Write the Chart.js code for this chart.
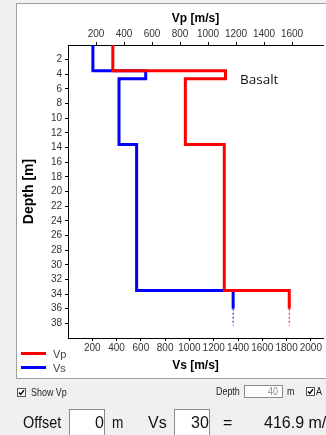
<!DOCTYPE html>
<html>
<head>
<meta charset="utf-8">
<script src="https://cdn.jsdelivr.net/npm/chart.js@4.4.1/dist/chart.umd.min.js"></script>
<style>
  html, body { margin: 0; padding: 0; }
  body {
    width: 326px; height: 435px; overflow: hidden; position: relative;
    background: #f0f0f0; font-family: "Liberation Sans", Arial, sans-serif; color: #111;
  }
  .panel {
    position: absolute; left: 16px; top: 3px; width: 330px; height: 374px;
    background: #fff; border: 1px solid #a0a0a0;
  }
  #chart { position: absolute; left: 0; top: 0; }
  .abs { position: absolute; white-space: nowrap; }
  .small { font-size: 10.5px; line-height: 12px; color: #222; transform: scaleX(0.85); transform-origin: left center; }
  .big { font-size: 16px; line-height: 18px; color: #111; }
  .box { position: absolute; background: #fff; border: 1px solid #8a8a8a; box-sizing: border-box; }
  .cb { position: absolute; width: 9px; height: 9px; box-sizing: border-box; border: 1px solid #555; background: #fff; }
  .leg { position: absolute; height: 3px; width: 25px; }
</style>
</head>
<body>
<div class="panel">
  <canvas id="chart" width="309" height="374"></canvas>
  <div class="leg" style="left:4px; top:348px; background:#ff0000;"></div>
  <div class="leg" style="left:4px; top:362px; background:#0000ff;"></div>
  <div class="abs" style="left:36px; top:344px; font-size:11px; line-height:13px; color:#444;">Vp</div>
  <div class="abs" style="left:36px; top:358px; font-size:11px; line-height:13px; color:#444;">Vs</div>
  <div class="abs" style="left:223px; top:66px; font-family:'Open Sans', sans-serif; font-size:13.5px; line-height:18px; color:#111;">Basalt</div>
</div>

<!-- controls under the chart -->
<div class="cb" style="left:17px; top:388px;">
  <svg width="7" height="7" style="position:absolute; left:0; top:0;"><polyline points="1,3.5 2.8,5.5 6,1.2" fill="none" stroke="#000" stroke-width="1.4"/></svg>
</div>
<div class="abs small" style="left:31px; top:386px;">Show Vp</div>
<div class="abs small" style="left:216px; top:385px;">Depth</div>
<div class="box" style="left:244px; top:385px; width:39px; height:13px;"></div>
<div class="abs small" style="left:268px; top:385px; color:#888;">40</div>
<div class="abs small" style="left:287px; top:385px;">m</div>
<div class="cb" style="left:306px; top:387px;">
  <svg width="7" height="7" style="position:absolute; left:0; top:0;"><polyline points="1,3.5 2.8,5.5 6,1.2" fill="none" stroke="#000" stroke-width="1.4"/></svg>
</div>
<div class="abs small" style="left:316px; top:385px;">A</div>

<div class="abs big" style="left:23px; top:414px; transform:scaleX(0.9); transform-origin:left center;">Offset</div>
<div class="box" style="left:69px; top:409px; width:36px; height:40px;"></div>
<div class="abs big" style="left:95px; top:414px;">0</div>
<div class="abs big" style="left:112px; top:414px; transform:scaleX(0.85); transform-origin:left center;">m</div>
<div class="abs big" style="left:148px; top:414px;">Vs</div>
<div class="box" style="left:174px; top:409px; width:36px; height:40px;"></div>
<div class="abs big" style="left:191px; top:414px;">30</div>
<div class="abs big" style="left:223px; top:414px;">=</div>
<div class="abs big" style="left:264px; top:414px;">416.9 m/s</div>

<script>
// tick labels
const depthTicks = [2, 4, 6, 8, 10, 12, 14, 16, 18, 20, 22, 24, 26, 28, 30, 32, 34, 36, 38];
const vpTicks = [200, 400, 600, 800, 1000, 1200, 1400, 1600];
const vsTicks = [200, 400, 600, 800, 1000, 1200, 1400, 1600, 1800, 2000];

// layer model (depth of layer top in m, velocities in m/s)
const layerTops = [0, 3.5, 4.6, 13.6, 33.5];
const vpLayers = [320, 1125, 838, 1116, 1580];
const vsLayers = [205, 640, 420, 565, 1360];
const halfSpaceSolid = 36;
const halfSpaceDash = 38.3;

function stepLine(values) {
    const pts = [];
    values.forEach((v, i) => {
        const bottom = i < layerTops.length - 1 ? layerTops[i + 1] : halfSpaceSolid;
        pts.push({ x: v, y: layerTops[i] }, { x: v, y: bottom });
    });
    return pts;
}

function tail(values) {
    const v = values[values.length - 1];
    return [{ x: v, y: halfSpaceSolid }, { x: v, y: halfSpaceDash }];
}

const tickFont = { family: 'Liberation Sans', size: 10 };
const titleFont = { family: 'Liberation Sans', size: 12, weight: 'bold' };
const plain = v => String(v);

function axisStyle() {
    return {
        grid: { drawOnChartArea: false, drawTicks: true, tickLength: 3, tickColor: '#000' },
        border: { display: true, color: '#000', width: 1 },
    };
}

new Chart(document.getElementById('chart'), {
    type: 'scatter',
    data: {
        datasets: [
            { label: 'Vp', data: stepLine(vpLayers), xAxisID: 'x2', showLine: true, borderColor: '#ff0000', borderWidth: 3, pointRadius: 0 },
            { label: 'Vs', data: stepLine(vsLayers), xAxisID: 'x', showLine: true, borderColor: '#0000ff', borderWidth: 3, pointRadius: 0 },
            { label: 'Vp half-space', data: tail(vpLayers), xAxisID: 'x2', showLine: true, borderColor: '#ff0000', borderWidth: 1, borderDash: [2, 2], pointRadius: 0 },
            { label: 'Vs half-space', data: tail(vsLayers), xAxisID: 'x', showLine: true, borderColor: '#0000ff', borderWidth: 1, borderDash: [2, 2], pointRadius: 0 }
        ]
    },
    options: {
        responsive: false,
        animation: false,
        devicePixelRatio: 1,
        layout: { padding: { left: 0, top: 0, right: 3, bottom: 0 } },
        plugins: { legend: { display: false }, tooltip: { enabled: false } },
        scales: {
            x: {
                type: 'linear', position: 'bottom', min: 0, max: 2100,
                ...axisStyle(),
                afterBuildTicks: s => { s.ticks = vsTicks.map(v => ({ value: v })); },
                afterFit: s => { s.height = 40; },
                ticks: { font: tickFont, color: '#333', padding: 1, maxRotation: 0, autoSkip: false, callback: plain },
                title: { display: true, text: 'Vs [m/s]', font: titleFont, color: '#000', padding: { top: 0, bottom: 5 } }
            },
            x2: {
                type: 'linear', position: 'top', min: 0, max: 1821,
                ...axisStyle(),
                afterBuildTicks: s => { s.ticks = vpTicks.map(v => ({ value: v })); },
                afterFit: s => { s.height = 41; },
                ticks: { font: tickFont, color: '#333', padding: 2, maxRotation: 0, autoSkip: false, callback: plain },
                title: { display: true, text: 'Vp [m/s]', font: titleFont, color: '#000', padding: { top: 7, bottom: 0 } }
            },
            y: {
                type: 'linear', position: 'left', reverse: true, min: 0, max: 40,
                ...axisStyle(),
                afterBuildTicks: s => { s.ticks = depthTicks.map(v => ({ value: v })); },
                afterFit: s => { s.width = 51; },
                ticks: { font: tickFont, color: '#333', padding: 3, autoSkip: false, callback: plain },
                title: { display: true, text: 'Depth [m]', font: { family: 'Liberation Sans', size: 14, weight: 'bold' }, color: '#000', padding: { top: 4, bottom: 0 } }
            }
        }
    }
});
</script>
</body>
</html>
